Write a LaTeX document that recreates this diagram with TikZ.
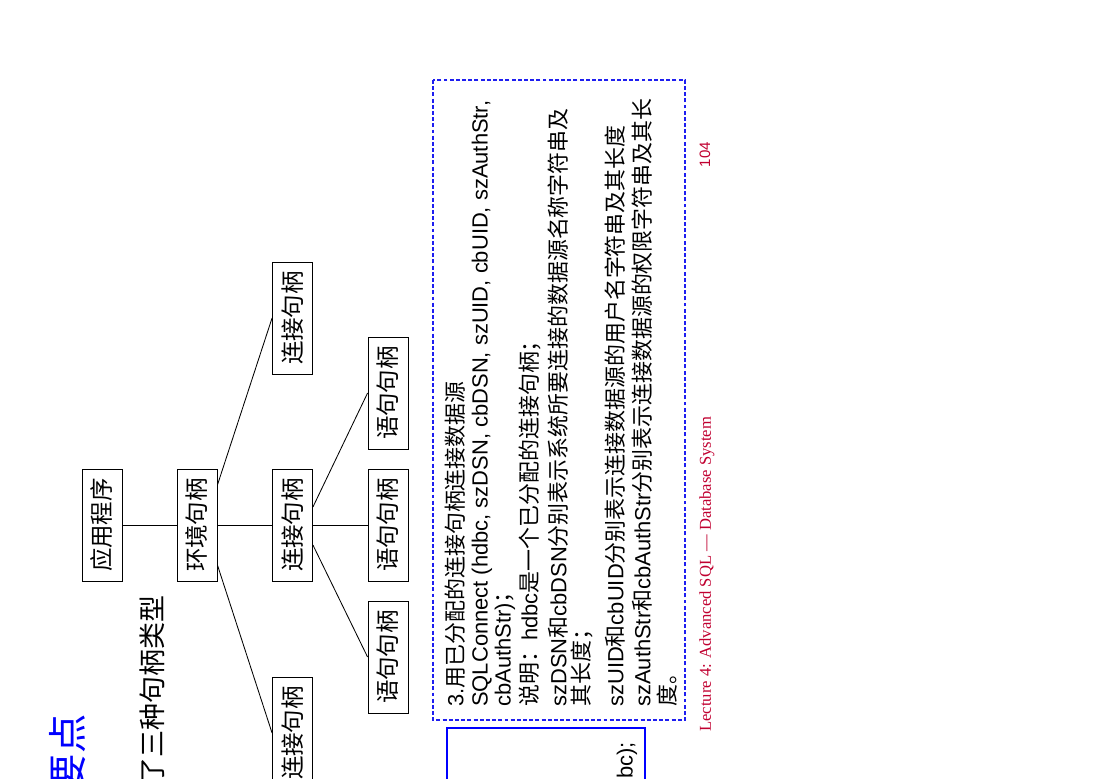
\documentclass[tikz,border=0pt]{standalone}
\usepackage{fontspec}
\setmainfont{Liberation Sans}
\newfontfamily\cjk{Noto Sans CJK SC}
\newfontfamily\footfont{Liberation Serif}
\newfontfamily\pagefont{Liberation Sans}
\usetikzlibrary{calc}
\definecolor{footred}{RGB}{192,0,48}
\definecolor{boxblue}{RGB}{30,30,240}

\begin{document}
\begin{tikzpicture}[x=0.025cm,y=-0.025cm,
        handle/.style={draw,line width=0.6pt,rotate=90,minimum width=2.8cm,minimum height=1cm,inner sep=0pt,font=\cjk\fontsize{16.7}{18}\selectfont},
        textline/.style={rotate=90,anchor=west,inner sep=0pt,font=\fontsize{15.6}{17}\selectfont}]
        \useasboundingbox (0,0) rectangle (1100,778);
        \node[text=blue,rotate=90,anchor=east,inner sep=0pt,font=\cjk\fontsize{28}{30}\selectfont] (Title) at (68,714) {要点};
        \node[rotate=90,anchor=east,inner sep=0pt,font=\cjk\fontsize{19.2}{21}\selectfont] (Sub) at (152,595) {了三种句柄类型};
        \node[handle] (App) at (102,525) {应用程序};
        \node[handle] (Env) at (197,525) {环境句柄};
        \node[handle] (Conn0) at (292.5,318) {连接句柄};
        \node[handle] (Conn1) at (292.5,525) {连接句柄};
        \node[handle] (Conn2) at (292.5,733) {连接句柄};
        \node[handle] (Stmt0) at (388,393) {语句句柄};
        \node[handle] (Stmt1) at (388,525) {语句句柄};
        \node[handle] (Stmt2) at (388,657) {语句句柄};
        \path[line width=0.6pt]
        (App.south) edge (Env.north)
        ($(Env.south)+(0,-40)$) edge (Conn0.north)
        (Env.south) edge (Conn1.north)
        ($(Env.south)+(0,40)$) edge (Conn2.north)
        ($(Conn1.south)+(0,-18)$) edge (Stmt0.north)
        (Conn1.south) edge (Stmt1.north)
        ($(Conn1.south)+(0,20)$) edge (Stmt2.north);
        \draw[boxblue,line width=0.9pt,dash pattern=on 2.8pt off 1.6pt] (433,80) rectangle (685,720);
        \node[textline] (L1) at (455,707) {3.{\cjk 用已分配的连接句柄连接数据源}};
        \node[textline] (L2) at (482,707) {SQLConnect (hdbc, szDSN, cbDSN, szUID, cbUID, szAuthStr,};
        \node[textline] (L3) at (505,707) {cbAuthStr){\cjk ；}};
        \node[textline] (L4) at (530,707) {{\cjk 说明：}hdbc{\cjk 是一个已分配的连接句柄；}};
        \node[textline] (L5) at (558,707) {szDSN{\cjk 和}cbDSN{\cjk 分别表示系统所要连接的数据源名称字符串及}};
        \node[textline] (L6) at (582,707) {{\cjk 其长度；}};
        \node[textline] (L7) at (615,707) {szUID{\cjk 和}cbUID{\cjk 分别表示连接数据源的用户名字符串及其长度}};
        \node[textline] (L8) at (642,707) {szAuthStr{\cjk 和}cbAuthStr{\cjk 分别表示连接数据源的权限字符串及其长}};
        \node[textline] (L9) at (667,707) {{\cjk 度。}};
        \draw[blue,line width=0.8pt] (447,728) rectangle (645,800);
        \node[rotate=90,anchor=east,inner sep=0pt,font=\fontsize{15.6}{17}\selectfont] (Code) at (627,742) {bc);};
        \node[text=footred,rotate=90,anchor=west,inner sep=0pt,font=\footfont\fontsize{11.8}{13}\selectfont] (Foot) at (707,732) {Lecture 4: Advanced SQL — Database System};
        \node[text=footred,rotate=90,inner sep=0pt,font=\pagefont\fontsize{10.7}{12}\selectfont] (Page) at (705,154.5) {104};
\end{tikzpicture}
\end{document}
